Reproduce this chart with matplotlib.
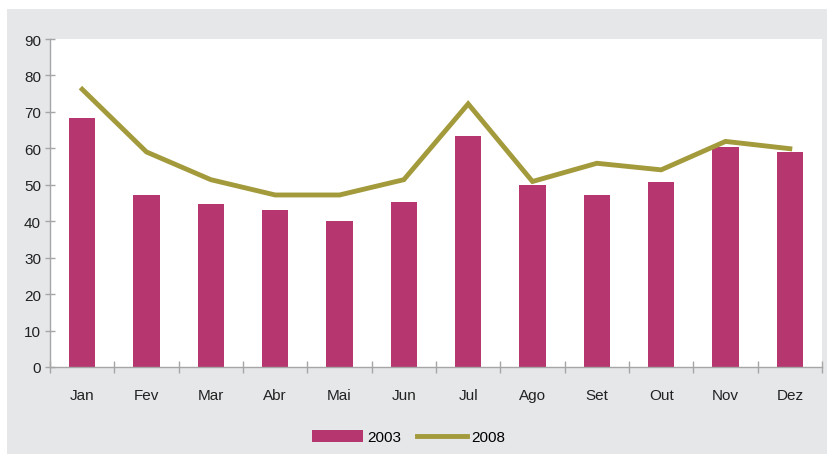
import matplotlib
matplotlib.use("Agg")
import matplotlib.pyplot as plt
from matplotlib.patches import Rectangle
import numpy as np

months = ["Jan", "Fev", "Mar", "Abr", "Mai", "Jun", "Jul", "Ago", "Set", "Out", "Nov", "Dez"]
values_2003 = [68.4, 47.2, 44.8, 43.1, 40.1, 45.3, 63.4, 50.0, 47.2, 50.8, 60.5, 59.1]
values_2008 = [76.2, 59.0, 51.4, 47.2, 47.2, 51.4, 72.2, 50.9, 55.9, 54.1, 61.9, 59.9]
yticks = [0, 10, 20, 30, 40, 50, 60, 70, 80, 90]

bar_color = "#b63670"
line_color = "#a39a3c"
bg_gray = "#e6e7e9"
axis_gray = "#a6a6a6"

plt.rcParams['font.family'] = ['Liberation Sans', 'DejaVu Sans']

W, H = 827, 456
fig = plt.figure(figsize=(W / 100, H / 100), dpi=100, facecolor="white")
bg = Rectangle((7 / W, 1 / H), 1 - 7 / W, (455 - 10) / H,
               transform=fig.transFigure, facecolor=bg_gray,
               edgecolor="none", zorder=-10)
fig.add_artist(bg)

ax = fig.add_axes([50 / W, (H - 368) / H, (822 - 50) / W, (368 - 40) / H])
ax.set_facecolor("white")

x = np.arange(len(months))
bars = ax.bar(x, values_2003, width=0.41, color=bar_color, label="2003", zorder=2)
line, = ax.plot(x, values_2008, color=line_color, linewidth=3.5, label="2008", zorder=3,
                solid_joinstyle="miter")

ax.set_xlim(-0.5, len(months) - 0.5)
ax.set_ylim(0, 90)
ax.set_yticks(yticks)
ax.set_xticks(np.arange(-0.5, len(months), 1.0))
ax.set_xticklabels([])
ax.set_xticks(x, minor=True)
ax.set_xticklabels(months, minor=True)

for s in ["top", "right"]:
    ax.spines[s].set_visible(False)
for s in ["left", "bottom"]:
    ax.spines[s].set_color(axis_gray)
    ax.spines[s].set_linewidth(1.0)

ax.tick_params(axis="y", which="major", direction="inout", length=7, width=1,
               color=axis_gray, labelsize=11, labelcolor="#222222", pad=3)
ax.tick_params(axis="x", which="major", direction="inout", length=8, width=1,
               color=axis_gray)
ax.tick_params(axis="x", which="minor", length=0, labelsize=11,
               labelcolor="#222222", pad=15)

fig.legend([bars, line], ["2003", "2008"], loc="center",
           bbox_to_anchor=(409 / W, (H - 438) / H), ncol=2,
           frameon=False, fontsize=11, handlelength=3.3, handleheight=0.8,
           handletextpad=0.3, columnspacing=1.0)

fig.savefig("out.png", dpi=100, facecolor="white")
